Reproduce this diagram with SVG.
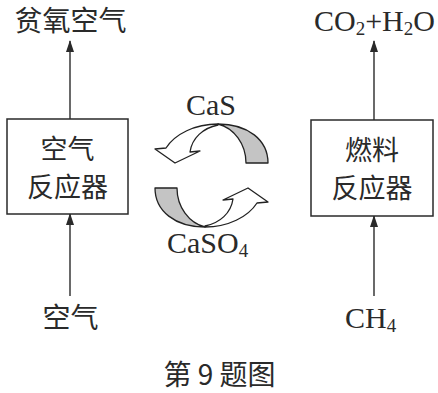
<svg xmlns="http://www.w3.org/2000/svg" width="438" height="393" viewBox="0 0 438 393">
<defs>
<style>
.cjk{font-family:"Noto Sans CJK SC","Noto Sans",sans-serif;font-size:28px;fill:#2a2a2a;text-anchor:middle}
.in{font-size:27px}
.ser{font-family:"Liberation Serif","Times New Roman",serif;font-size:30px;fill:#2a2a2a}
.box{fill:#fff;stroke:#2a2a2a;stroke-width:1.5}
.ln{stroke:#2a2a2a;stroke-width:1.4;fill:none}
.rib{stroke:#222;stroke-width:1.3;stroke-linejoin:round}
</style>
<marker id="ah" viewBox="0 0 12 8" refX="11" refY="4" markerWidth="12" markerHeight="8" markerUnits="userSpaceOnUse" orient="auto">
<path d="M0,0 L12,4 L0,8 Z" fill="#2a2a2a"/>
</marker>
<g id="cyc">
<path class="rib" fill="#c4c4c4" d="M246,163 L268,163 C268,140 248,124 218,124 C234,128 246,144 246,163 Z"/>
<path class="rib" fill="#fff" d="M218,124 C195,124 175,134 166,148 L155,149 L175,163 L200,151 L190,152 C192,138 203,128 218,125 Z"/>
</g>
</defs>
<g id="connectors">
<line class="ln" x1="70" y1="119" x2="70" y2="41" marker-end="url(#ah)"/>
<line class="ln" x1="70" y1="296" x2="70" y2="214" marker-end="url(#ah)"/>
<line class="ln" x1="374" y1="120" x2="374" y2="41" marker-end="url(#ah)"/>
<line class="ln" x1="374" y1="296" x2="374" y2="216" marker-end="url(#ah)"/>
</g>
<g id="air-reactor">
<rect class="box" x="7" y="119" width="121" height="95"/>
<text class="cjk in" x="67.5" y="159">空气</text>
<text class="cjk in" x="67.5" y="197">反应器</text>
</g>
<g id="fuel-reactor">
<rect class="box" x="311" y="120" width="122" height="96"/>
<text class="cjk in" x="372" y="160">燃料</text>
<text class="cjk in" x="372" y="198">反应器</text>
</g>
<g id="cycle">
<use href="#cyc"/>
<use href="#cyc" transform="rotate(180 211.5 175.5)"/>
<text class="ser" x="211" y="115" text-anchor="middle">CaS</text>
<text class="ser" x="167" y="253">CaSO<tspan font-size="19" dy="4">4</tspan></text>
</g>
<g id="labels">
<text class="cjk" x="70.5" y="31">贫氧空气</text>
<text class="ser" x="314" y="31">CO<tspan font-size="19" dy="4">2</tspan><tspan dy="-4">+H</tspan><tspan font-size="19" dy="4">2</tspan><tspan dy="-4">O</tspan></text>
<text class="cjk" x="70.5" y="328">空气</text>
<text class="ser" x="345" y="328">CH<tspan font-size="19" dy="4">4</tspan></text>
<text class="cjk" x="219.5" y="385" font-size="26">第 9 题图</text>
</g>
</svg>
